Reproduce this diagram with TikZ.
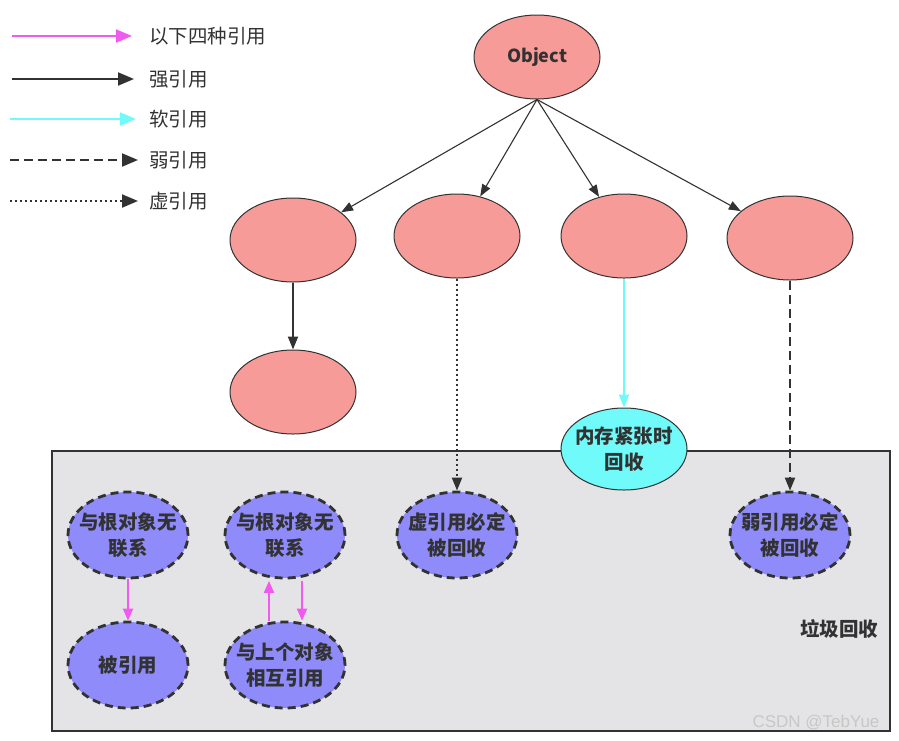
\documentclass[tikz,border=0pt]{standalone}
\usepackage{fontspec}
\usepackage{xcolor}
\setmainfont{Noto Sans CJK SC}
\newfontfamily\wmfont{Liberation Sans}
\usetikzlibrary{arrows.meta,shapes.geometric}

\definecolor{objred}{RGB}{247,155,153}
\definecolor{softcyan}{RGB}{112,250,250}
\definecolor{gcpurple}{RGB}{143,139,250}
\definecolor{gcgray}{RGB}{228,228,230}
\definecolor{refpink}{RGB}{240,90,240}
\definecolor{inkgray}{RGB}{50,50,50}

\begin{document}
\begin{tikzpicture}[x=1pt,y=-1pt,>={Triangle[length=16pt,width=13pt]},
                inkgray,line width=2pt,
                obj node/.style={ellipse,draw=inkgray,line width=1pt,fill=objred,
                  minimum width=126pt,minimum height=84pt,
                  font=\bfseries\fontsize{18}{22}\selectfont},
                soft node/.style={obj node,fill=softcyan,minimum height=82pt,
                  inner xsep=-10pt,align=center,font=\bfseries\fontsize{19.5}{26}\selectfont},
                gc node/.style={ellipse,draw=inkgray,line width=2.8pt,
                  dash pattern=on 8pt off 5pt,fill=gcpurple,
                  minimum width=120pt,minimum height=86pt,inner xsep=-10pt,align=center,
                  font=\bfseries\fontsize{19.5}{26}\selectfont},
                legend/.style={anchor=west,font=\fontsize{19.5}{22}\selectfont},
                strong/.style={->,inkgray},
                soft/.style={->,softcyan},
                weak/.style={->,inkgray,dash pattern=on 9pt off 5pt},
                phantom/.style={->,inkgray,dash pattern=on 2pt off 3pt},
                mutual/.style={->,refpink}]

  \useasboundingbox (0,0) rectangle (899,740);

  % legend
  \coordinate (p0) at (12,36);  \coordinate (p1) at (132,36);
  \coordinate (s0) at (12,79);  \coordinate (s1) at (134,79);
  \coordinate (c0) at (10,119); \coordinate (c1) at (136,119);
  \coordinate (w0) at (10,160); \coordinate (w1) at (138,160);
  \coordinate (f0) at (10,201); \coordinate (f1) at (138,201);
  \node[legend] (lp) at (145,36) {以下四种引用};
  \node[legend] (ls) at (145,79) {强引用};
  \node[legend] (lc) at (145,119) {软引用};
  \node[legend] (lw) at (145,160) {弱引用};
  \node[legend] (lf) at (145,201) {虚引用};
  \draw[mutual] (p0) -- (p1);
  \draw[strong] (s0) -- (s1);
  \draw[soft] (c0) -- (c1);
  \draw[weak] (w0) -- (w1);
  \draw[phantom] (f0) -- (f1);

  % garbage collection area
  \draw[line width=2pt,fill=gcgray] (52,451) rectangle (890,731);
  \node[font=\bfseries\fontsize{19.5}{22}\selectfont] (gc) at (839,629) {垃圾回收};
  \node[font=\wmfont\fontsize{17}{20}\selectfont,text=black!22] (wm) at (816,722) {CSDN @TebYue};

  % objects
  \node[obj node] (obj) at (537,57) {Object};
  \node[obj node] (1) at (293,240) {};
  \node[obj node] (2) at (457,236) {};
  \node[obj node] (3) at (624,236) {};
  \node[obj node] (4) at (790,238) {};
  \node[obj node] (5) at (293,392) {};
  \node[soft node] (6) at (624,449) {内存紧张时\\回收};

  \node[gc node] (g1) at (128,535) {与根对象无\\联系};
  \node[gc node] (g2) at (128,665) {被引用};
  \node[gc node] (g3) at (285,535) {与根对象无\\联系};
  \node[gc node] (g4) at (285,665) {与上个对象\\相互引用};
  \node[gc node] (g5) at (457,535) {虚引用必定\\被回收};
  \node[gc node] (g6) at (790,535) {弱引用必定\\被回收};

  \path[line width=1.1pt,>={Triangle[length=12pt,width=9pt]}]
    (obj.south) edge[->] (1)
    (obj.south) edge[->] (2)
    (obj.south) edge[->] (3)
    (obj.south) edge[->] (4);

  \draw[strong,>={Triangle[length=13pt,width=10pt]}] (1) -- (5);
  \draw[phantom,>={Triangle[length=13pt,width=10pt]}] (2) -- (g5);
  \draw[soft,>={Triangle[length=13pt,width=10pt]}] (3) -- (6);
  \draw[weak,>={Triangle[length=13pt,width=10pt]}] (4) -- (g6);

  \draw[mutual,>={Triangle[length=12pt,width=10pt]}] (g1) -- (g2);
  \draw[mutual,>={Triangle[length=12pt,width=10pt]}] ([xshift=-16pt]g4.north) -- ([xshift=-16pt,yshift=-1.5pt]g3.south);
  \draw[mutual,>={Triangle[length=12pt,width=10pt]}] ([xshift=17pt,yshift=-1.5pt]g3.south) -- ([xshift=17pt]g4.north);
\end{tikzpicture}
\end{document}
